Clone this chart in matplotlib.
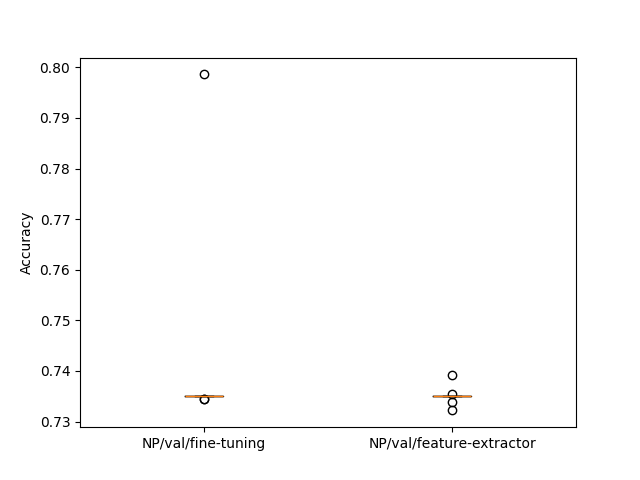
import matplotlib
matplotlib.use("Agg")
import matplotlib.pyplot as plt

labels = ["NP/val/fine-tuning", "NP/val/feature-extractor"]
fine_tuning = [0.7351] * 8 + [0.7345, 0.7345, 0.7986]
feature_extractor = [0.7351] * 8 + [0.7391, 0.7354, 0.7338, 0.7322]

fig, ax = plt.subplots(figsize=(6.4, 4.8), dpi=100)
ax.boxplot([fine_tuning, feature_extractor])
ax.set_xticks([1, 2])
ax.set_xticklabels(labels)
ax.set_ylabel("Accuracy")
fig.savefig("out.png")
